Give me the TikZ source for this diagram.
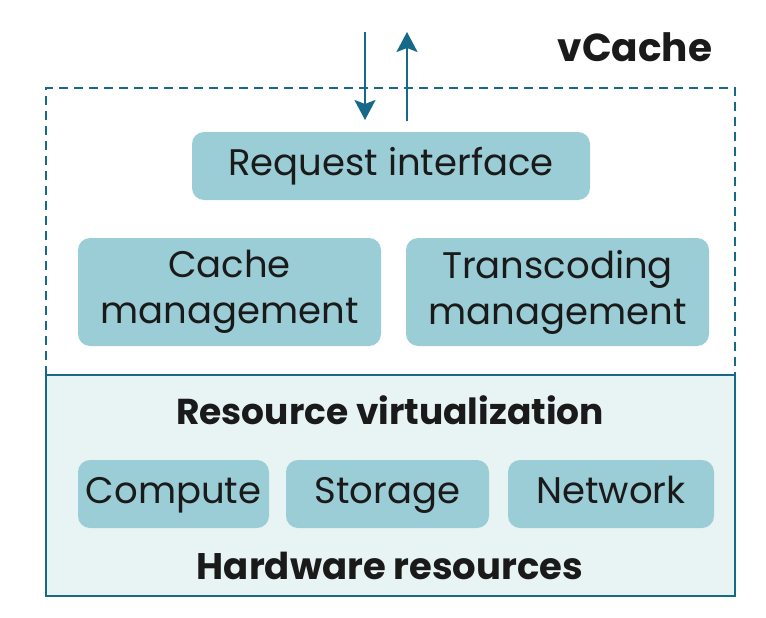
\documentclass[tikz,border=0pt]{standalone}
\usepackage{fontspec}
\setmainfont{Poppins}
\usetikzlibrary{arrows.meta}
\definecolor{edge}{HTML}{17698A}
\definecolor{boxfill}{HTML}{9BCDD7}
\definecolor{lowfill}{HTML}{E8F4F4}
\definecolor{ink}{HTML}{1A1A1A}
\tikzset{
  module/.style={fill=boxfill, rounded corners=12pt, text=ink, align=center, font=\fontsize{37}{46}\selectfont, inner sep=0pt},
  oneline/.style={text height=27pt, text depth=8pt},
  heading/.style={text=ink, font=\fontsize{36}{40}\selectfont\bfseries},
  flow/.style={edge, line width=2.3pt, -{Stealth[length=20pt,width=21pt,inset=4pt]}}
}
\begin{document}
\begin{tikzpicture}[x=1pt,y=-1pt]
\useasboundingbox (0,0) rectangle (766,618);
% lower solid panel
\draw[edge, line width=1.6pt, fill=lowfill] (46,375) rectangle (735,596);
% upper dashed panel
\draw[edge, line width=1.6pt, dash pattern=on 9pt off 6pt] (46,375) -- (46,88) -- (735,88) -- (735,375);
\node[heading, font=\fontsize{39}{42}\selectfont\bfseries] (title) at (635,47) {vCache};
\node[module, oneline, minimum width=398pt, minimum height=68pt] (req) at (391,166) {Request interface};
\node[module, minimum width=303pt, minimum height=108pt] (cache) at (229.5,292) {Cache\\management};
\node[module, minimum width=303pt, minimum height=108pt] (trans) at (557.5,292) {Transcoding\\management};
\node[heading] (virt) at (390,410) {Resource virtualization};
\node[module, oneline, minimum width=191pt, minimum height=68pt] (comp) at (173.5,494) {Compute};
\node[module, oneline, minimum width=203pt, minimum height=68pt] (stor) at (387.5,494) {Storage};
\node[module, oneline, minimum width=206pt, minimum height=68pt] (net) at (611,494) {Network};
\node[heading, font=\fontsize{37}{40}\selectfont\bfseries] (hw) at (390,566) {Hardware resources};
\coordinate (inTop) at (365,32);
\coordinate (outTop) at (407,32);
\draw[flow] (inTop) -- (365,120);
\draw[flow] (407,121) -- (outTop);
\end{tikzpicture}
\end{document}
